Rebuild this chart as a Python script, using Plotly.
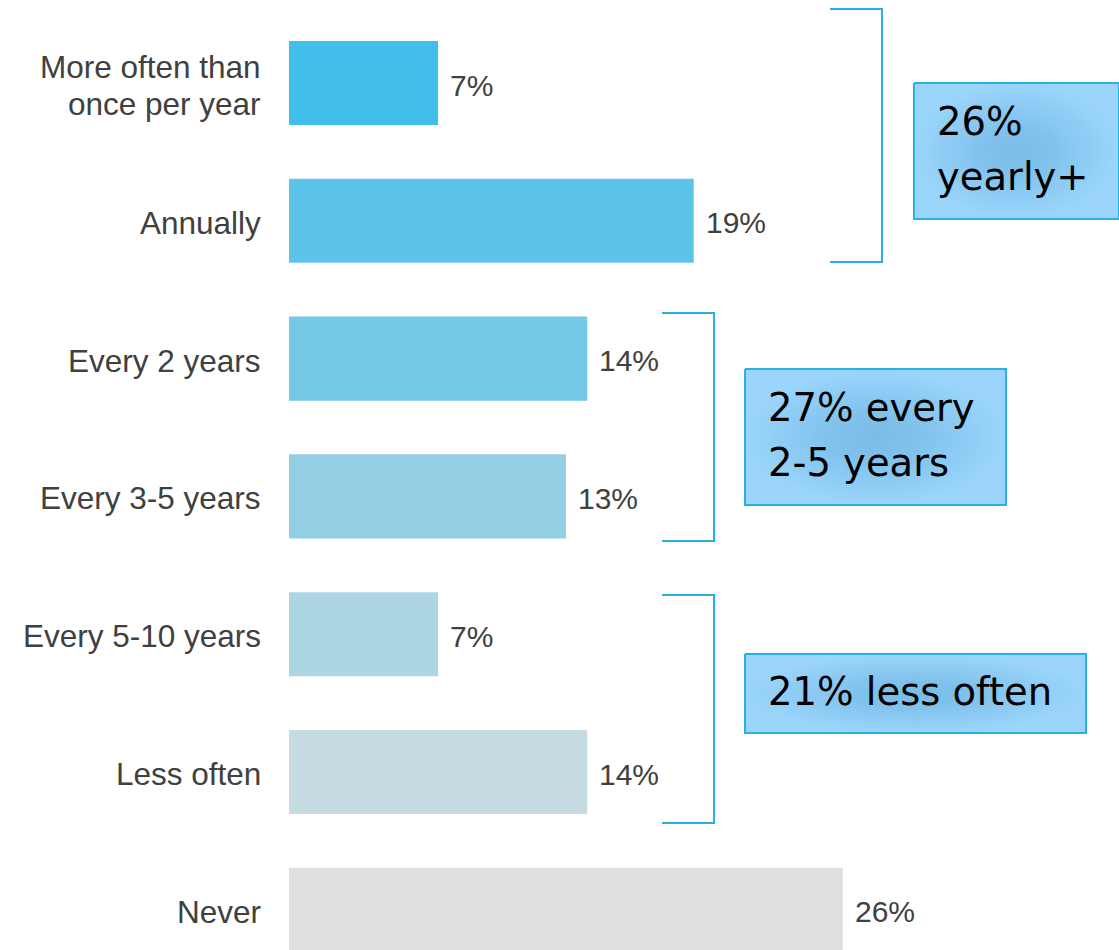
import plotly.graph_objects as go

# Survey: how often respondents do it
categories = ["More often than<br>once per year", "Annually", "Every 2 years",
              "Every 3-5 years", "Every 5-10 years", "Less often", "Never"]
values = [7, 19, 14, 13, 7, 14, 26]
value_labels = ["7%", "19%", "14%", "13%", "7%", "14%", "26%"]
bar_colors = ["#41BEE9", "#5CC4E8", "#75C8E6", "#92CFE4", "#ADD6E3", "#C6DCE2", "#DFDFDF"]

group_lines = [["26%", "yearly+"], ["27% every", "2-5 years"], ["21% less often"]]

W, H = 1119, 950
LEFT = 289
PX_PER_PCT = 21.3
ROW = 137.8
FIRST_Y = 83

x_max = (W - LEFT) / PX_PER_PCT
y_top = -FIRST_Y / ROW
y_bot = (H - FIRST_Y) / ROW


def dx(px):
    return (px - LEFT) / PX_PER_PCT


def dy(py):
    return (py - FIRST_Y) / ROW


ypos = list(range(len(categories)))

fig = go.Figure()
fig.add_trace(go.Bar(
    x=values, y=ypos, orientation="h", width=0.61,
    marker=dict(color=bar_colors, line=dict(width=0)),
    hoverinfo="skip", showlegend=False,
))

for v, yv, lab in zip(values, ypos, value_labels):
    fig.add_annotation(x=v, y=yv, text=lab, showarrow=False, xanchor="left",
                       xshift=10, yshift=-2,
                       font=dict(family="Liberation Sans, Arial", size=30, color="#404040"))

# category labels, multi-line ones split with a fixed line gap
CAT_GAP = 37
for yv, lab in zip(ypos, categories):
    parts = lab.split("<br>")
    n = len(parts)
    for i, part in enumerate(parts):
        off = (i - (n - 1) / 2) * CAT_GAP
        fig.add_annotation(x=0, y=yv, text=part, showarrow=False, xanchor="right",
                           align="right", xshift=-26, yshift=-2 - off,
                           font=dict(family="Liberation Sans, Arial", size=31.5, color="#404040"))

bracket_color = "#2BB0E6"
# brackets: (left px, right px, top px, bottom px)
brackets = [(830, 882, 9, 262), (662, 714, 313, 541), (662, 714, 595, 823)]
for x0, x1, y0, y1 in brackets:
    fig.add_shape(type="path",
                  path=f"M {dx(x0)},{dy(y0)} L {dx(x1)},{dy(y0)} L {dx(x1)},{dy(y1)} L {dx(x0)},{dy(y1)}",
                  xref="x", yref="y", line=dict(color=bracket_color, width=2))

# callout boxes: (left, right, top, bottom) px
boxes = [(914, 1119, 83, 219), (745, 1006, 369, 505), (745, 1086, 654, 733)]
LINE_GAP = 55
for (x0, x1, y0, y1), lines in zip(boxes, group_lines):
    xs = [dx(x0), dx(x1), dx(x1), dx(x0), dx(x0)]
    ys = [dy(y0), dy(y0), dy(y1), dy(y1), dy(y0)]
    fig.add_trace(go.Scatter(
        x=xs, y=ys, mode="lines", fill="toself",
        fillgradient=dict(type="radial", colorscale=[[0, "#79BCE6"], [0.35, "#80C2EC"], [1, "#9BD5FC"]]),
        line=dict(color=bracket_color, width=2),
        hoverinfo="skip", showlegend=False,
    ))
    mid = (y0 + y1) / 2
    n = len(lines)
    for i, line in enumerate(lines):
        cy = mid + (i - (n - 1) / 2) * LINE_GAP
        fig.add_annotation(x=dx(x0 + 21), y=dy(cy), text=line, showarrow=False,
                           xanchor="left", yanchor="middle", align="left", yshift=2,
                           font=dict(family="DejaVu Sans", size=38.5, color="#000000"))

fig.update_layout(
    width=W, height=H,
    margin=dict(l=LEFT, r=0, t=0, b=0),
    paper_bgcolor="white", plot_bgcolor="white",
    bargap=0.39,
    xaxis=dict(range=[0, x_max], visible=False, fixedrange=True),
    yaxis=dict(range=[y_bot, y_top], visible=False, fixedrange=True),
)

fig.write_html("out.html")
